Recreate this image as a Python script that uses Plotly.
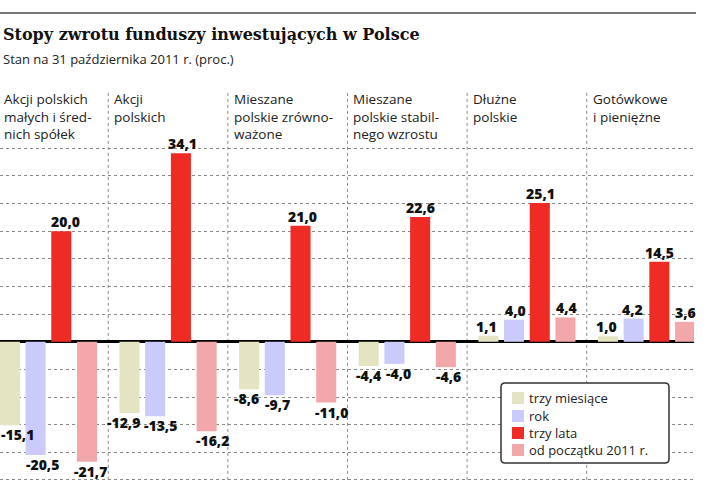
import plotly.graph_objects as go

categories = [
    "Akcji polskich<br>małych i śred-<br>nich spółek",
    "Akcji<br>polskich",
    "Mieszane<br>polskie zrówno-<br>ważone",
    "Mieszane<br>polskie stabil-<br>nego wzrostu",
    "Dłużne<br>polskie",
    "Gotówkowe<br>i pieniężne",
]
series_names = ["trzy miesiące", "rok", "trzy lata", "od początku 2011 r."]
trzy_miesiace = [-15.1, -12.9, -8.6, -4.4, 1.1, 1.0]
rok = [-20.5, -13.5, -9.7, -4.0, 4.0, 4.2]
trzy_lata = [20.0, 34.1, 21.0, 22.6, 25.1, 14.5]
od_poczatku = [-21.7, -16.2, -11.0, -4.6, 4.4, 3.6]
gridvals = [-25, -20, -15, -10, -5, 5, 10, 15, 20, 25, 30, 35]

series_values = [trzy_miesiace, rok, trzy_lata, od_poczatku]
colors = ["#e4e4c3", "#cacafb", "#ee2b25", "#f2a8ab"]

# horizontal nudges (px) of value labels, per series, per group (layout only)
label_nudge = [
    [8, -6, -3, 0, -2, -1],
    [7, 5, 3, 4, 1, -1],
    [4, 2, 2, 0, 1, 0],
    [3, 6, 5, 3, 1, 0],
]

W, H = 726, 490
ML, MR, MT, MB = 0, 32, 92, 9
PW, PH = W - ML - MR, H - MT - MB
XR = [-0.405, 5.397]
YR = [-25.2, 45.2]
BARGAP, BARGROUPGAP = 0.14, 0.22


def px(x):
    return (x - ML) / PW


def py(y):
    return (H - MB - y) / PH


xs = list(range(len(categories)))
nser = len(series_names)
slot = (1 - BARGAP) / nser

fig = go.Figure()
annotations = []
for j, (name, vals, col) in enumerate(zip(series_names, series_values, colors)):
    fig.add_trace(go.Bar(
        x=xs, y=vals, name=name, marker=dict(color=col, line=dict(width=0)),
        showlegend=False, hoverinfo="skip",
    ))
    for i, v in enumerate(vals):
        xc = i - (1 - BARGAP) / 2 + slot * (j + 0.5)
        annotations.append(dict(
            text=f"{v:.1f}".replace(".", ","), xref="x", yref="y", x=xc, y=v,
            xanchor="center", yanchor="bottom" if v >= 0 else "top",
            yshift=-2 if v >= 0 else 2, xshift=label_nudge[j][i],
            showarrow=False,
            font=dict(family="Open Sans", size=14, color="#111", weight=800)))

shapes = []
for i in range(1, len(categories)):
    shapes.append(dict(type="line", xref="x", yref="y", x0=i - 0.5, x1=i - 0.5,
                       y0=-25, y1=YR[1], layer="below",
                       line=dict(color="#8a8a8a", width=1, dash="dot")))
shapes.append(dict(type="line", xref="paper", yref="paper", x0=px(0), x1=px(696),
                   y0=py(13), y1=py(13), line=dict(color="#777", width=2)))

annotations.append(dict(text="Stopy zwrotu funduszy inwestujących w Polsce",
                        xref="paper", yref="paper", x=px(1), y=py(34),
                        xanchor="left", yanchor="middle", showarrow=False,
                        font=dict(family="DejaVu Serif", size=16, color="#111", weight="bold")))
annotations.append(dict(text="Stan na 31 października 2011 r. (proc.)",
                        xref="paper", yref="paper", x=px(1), y=py(59),
                        xanchor="left", yanchor="middle", showarrow=False,
                        font=dict(family="Open Sans", size=13, color="#222")))
for i, cat in enumerate(categories):
    xpos = max(i - 0.5, XR[0])
    annotations.append(dict(text=cat, xref="x", yref="paper", x=xpos, y=py(88),
                            xanchor="left", yanchor="top", align="left",
                            xshift=2 if i == 0 else 4, showarrow=False,
                            font=dict(family="Open Sans", size=13.5, color="#222")))

lx0, lx1, ly0, ly1, r = 501, 669, 383, 463, 4
path = (f"M{px(lx0 + r)},{py(ly0)} L{px(lx1 - r)},{py(ly0)} Q{px(lx1)},{py(ly0)} {px(lx1)},{py(ly0 + r)} "
        f"L{px(lx1)},{py(ly1 - r)} Q{px(lx1)},{py(ly1)} {px(lx1 - r)},{py(ly1)} "
        f"L{px(lx0 + r)},{py(ly1)} Q{px(lx0)},{py(ly1)} {px(lx0)},{py(ly1 - r)} "
        f"L{px(lx0)},{py(ly0 + r)} Q{px(lx0)},{py(ly0)} {px(lx0 + r)},{py(ly0)} Z")
shapes.append(dict(type="path", xref="paper", yref="paper", path=path,
                   fillcolor="white", line=dict(color="#333", width=1.5), layer="above"))
rows = [398, 416, 433, 450]
for name, col, ry in zip(series_names, colors, rows):
    shapes.append(dict(type="rect", xref="paper", yref="paper",
                       x0=px(512), x1=px(524), y0=py(ry - 6), y1=py(ry + 6),
                       fillcolor=col, line=dict(width=0), layer="above"))
    annotations.append(dict(text=name, xref="paper", yref="paper", x=px(527), y=py(ry),
                            xanchor="left", yanchor="middle", showarrow=False,
                            font=dict(family="Open Sans", size=13, color="#222")))

fig.update_layout(
    width=W, height=H, margin=dict(l=ML, r=MR, t=MT, b=MB),
    paper_bgcolor="white", plot_bgcolor="white",
    barmode="group", bargap=BARGAP, bargroupgap=BARGROUPGAP,
    xaxis=dict(range=XR, showgrid=False, zeroline=False, showticklabels=False,
               showline=False, ticks=""),
    yaxis=dict(range=YR, tickvals=gridvals, showticklabels=False, ticks="",
               showgrid=True, gridcolor="#8a8a8a", gridwidth=1, griddash="dot",
               zeroline=True, zerolinecolor="#000", zerolinewidth=2.5, showline=False),
    shapes=shapes, annotations=annotations, showlegend=False,
)
fig.write_html("out.html", config={"displayModeBar": False},
               post_script="document.body.style.margin='0';document.body.style.padding='0';")
